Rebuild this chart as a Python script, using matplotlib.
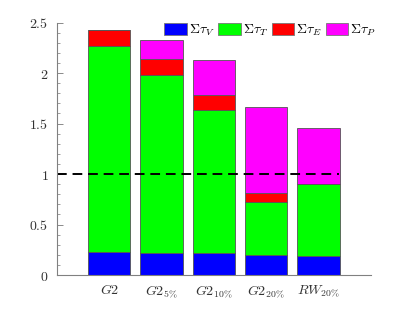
import matplotlib
matplotlib.use("Agg")
import matplotlib.pyplot as plt
import numpy as np
from matplotlib.ticker import MultipleLocator

plt.rcParams["mathtext.fontset"] = "cm"
plt.rcParams["font.family"] = "serif"
plt.rcParams["font.serif"] = ["DejaVu Serif"]

# --- data ---
cases = ["$G2$", "$G2_{5\\%}$", "$G2_{10\\%}$", "$G2_{20\\%}$", "$RW_{20\\%}$"]
tau_V = [0.225, 0.22, 0.215, 0.195, 0.185]
tau_T = [2.045, 1.76, 1.415, 0.53, 0.713]
tau_E = [0.16, 0.16, 0.15, 0.09, 0.0]
tau_P = [0.0, 0.19, 0.35, 0.85, 0.557]

series = [
    (tau_V, "#0000ff", r"$\Sigma\tau_V$"),
    (tau_T, "#00ff00", r"$\Sigma\tau_T$"),
    (tau_E, "#ff0000", r"$\Sigma\tau_E$"),
    (tau_P, "#ff00ff", r"$\Sigma\tau_P$"),
]

fig = plt.figure(figsize=(4.12, 3.09), dpi=100)
ax = fig.add_axes([0.138, 0.110, 0.762, 0.817])

x = np.arange(1, len(cases) + 1)
bottom = np.zeros(len(cases))
for vals, col, lab in series:
    vals = np.array(vals)
    ax.bar(x, vals, width=0.81, bottom=bottom, color=col, edgecolor="#555555",
           linewidth=0.6, label=lab)
    bottom += vals

ax.axhline(1.0, xmin=0, xmax=5.4 / 6, color="black", linestyle=(0, (5, 3)), linewidth=1.4)

ax.set_xlim(0, 6)
ax.set_ylim(0, 2.5)
ax.set_xticks(x)
ax.set_xticklabels(cases)
ax.yaxis.set_major_locator(MultipleLocator(0.5))
ax.yaxis.set_minor_locator(MultipleLocator(0.1))
ax.set_yticks([0, 0.5, 1, 1.5, 2, 2.5])
ax.set_yticklabels(["$0$", "$0.5$", "$1$", "$1.5$", "$2$", "$2.5$"])
ax.tick_params(axis="y", which="major", direction="in", length=4, width=0.6,
               color="#777777", labelsize=10, pad=6)
ax.tick_params(axis="y", which="minor", direction="in", length=2, width=0.5,
               color="#777777")
ax.tick_params(axis="x", length=0, labelsize=10, pad=6, labelcolor="#333333")
ax.tick_params(axis="y", labelcolor="#333333")

for s in ["top", "right"]:
    ax.spines[s].set_visible(False)
for s in ["left", "bottom"]:
    ax.spines[s].set_color("#808080")
    ax.spines[s].set_linewidth(0.8)

leg = fig.legend(loc="upper right", bbox_to_anchor=(0.925, 0.945), ncol=4,
                 frameon=False, fontsize=10, handlelength=1.6, handleheight=1.0,
                 handletextpad=0.15, columnspacing=0.3, borderaxespad=0)
for h in leg.legend_handles:
    h.set_edgecolor("#777777")

fig.savefig("out.png", dpi=100)
